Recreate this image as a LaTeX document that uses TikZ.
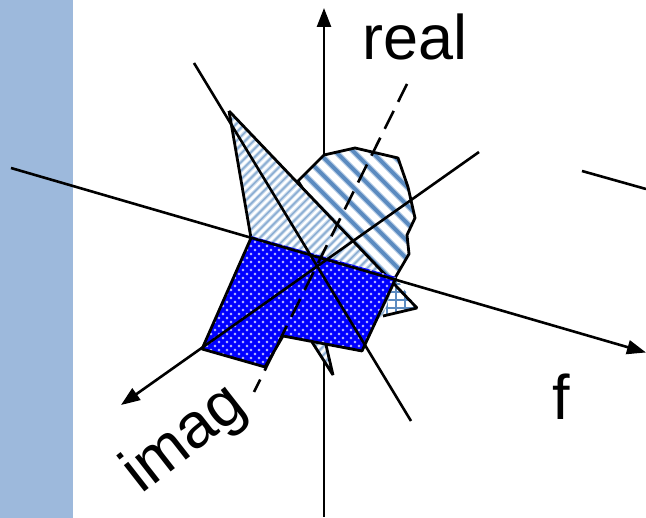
\documentclass[tikz,border=0pt]{standalone}
\usepackage{fontspec}
\setmainfont{Liberation Sans}
\usetikzlibrary{arrows.meta}
\definecolor{band}{HTML}{9DB9DC}
\definecolor{hatch}{HTML}{5B8BC0}
\definecolor{hatchsoft}{HTML}{B5CCE6}
\definecolor{solidblue}{HTML}{0000FF}
\definecolor{dotsoft}{HTML}{6060FF}
\tikzset{
  axis/.style={draw=black,line width=2.6pt},
  arrowaxis/.style={axis,-{Triangle[length=19pt,width=14pt]}},
  outline/.style={draw=black,line width=2.8pt,line join=bevel},
  label/.style={font=\fontsize{63}{63}\selectfont,inner sep=0pt,text=black},
}
\begin{document}
\begin{tikzpicture}[x=1pt,y=-1pt]
\useasboundingbox (0,0) rectangle (646,518);
\fill[band] (0,0) rectangle (73,518);

% axis coordinates
\coordinate (vb) at (324,517);
\coordinate (vt) at (324,8);
\coordinate (fa) at (11,168);
\coordinate (fb) at (646,352.5);
\coordinate (ia) at (479,152);
\coordinate (ib) at (121,405);
\coordinate (ca) at (194,63);
\coordinate (cb) at (411,421);
\coordinate (da) at (407,84);
\coordinate (db) at (254,392);
\coordinate (sa) at (582,171);
\coordinate (sb) at (646,189);

% vertical axis lies behind the shapes
\draw[arrowaxis] (vb) -- (vt);

% blob with wide stripes
\def\blob{(298,181) -- (324,155) -- (355,148) -- (398,158) -- (408,187) -- (415,218) -- (407,235) -- (409,254) -- (395,278) -- (360,280) -- cycle}
\fill[white] \blob;
\begin{scope}
\clip \blob;
\foreach \c in {-160,-142,...,120}{
  \draw[hatchsoft,line width=6pt] (\c+300,100) -- (\c+600,400);
  \draw[hatch,line width=3.6pt] (\c+300,100) -- (\c+600,400);
}
\end{scope}
\draw[outline] \blob;

% tall triangle with fine stripes
\def\tri{(229,111) -- (417,308) -- (383,316) -- (326,345) -- (333,375) -- (312,342) -- (251,238) -- cycle}
\fill[white] \tri;
\begin{scope}
\clip \tri;
\foreach \c in {0,8.6,...,520}{
  \draw[hatchsoft!70,line width=3.6pt] (\c+200,100) -- (\c-100,400);
  \draw[hatch!70,line width=1.5pt] (\c+200,100) -- (\c-100,400);
}
\end{scope}
% cross-hatched corner
\def\cross{(396,278) -- (417,308) -- (383,316) -- cycle}
\fill[white] \cross;
\begin{scope}
\clip \cross;
\foreach \c in {378,387,...,423} \draw[hatch,line width=1.6pt] (\c,270) -- (\c,320);
\foreach \c in {284,292,...,316} \draw[hatch,line width=1.6pt] (370,\c) -- (425,\c);
\end{scope}
\draw[outline] (229,111) -- (417,308) -- (383,316);
\draw[outline] (251,238) -- (229,111);
\draw[outline] (312,342) -- (333,375) -- (326,345);

% blue dotted polygon
\def\bluepoly{(251,236) -- (396,277) -- (362,351) -- (283,336) -- (265,367) -- (202,349) -- cycle}
\fill[solidblue] \bluepoly;
\begin{scope}
\clip \bluepoly;
\foreach \i in {0,...,30}{\foreach \j in {0,...,20}{
  \fill[dotsoft] (195+8*\i,230+8*\j) circle (1.7pt);
  \fill[dotsoft] (199+8*\i,234+8*\j) circle (1.7pt);
  \fill[white] (195+8*\i,230+8*\j) circle (0.8pt);
  \fill[white] (199+8*\i,234+8*\j) circle (0.8pt);
}}
\end{scope}
\draw[outline] (251,238) -- (202,349) -- (265,367) -- (283,336) -- (362,351) -- (396,278);

% axes above the shapes
\draw[arrowaxis] (fa) -- (fb);
\draw[arrowaxis] (ia) -- (ib);
\draw[axis] (ca) -- (cb);
\draw[axis,dash pattern=on 20pt off 10pt] (da) -- (db);
\draw[axis] (sa) -- (sb);

% labels
\node[label,anchor=base west] (lreal) at (362,60) {real};
\node[label,anchor=base west] (lf) at (552,420) {f};
\node[label,anchor=base west,rotate=38] (limag) at (141,495) {imag};
\end{tikzpicture}
\end{document}
